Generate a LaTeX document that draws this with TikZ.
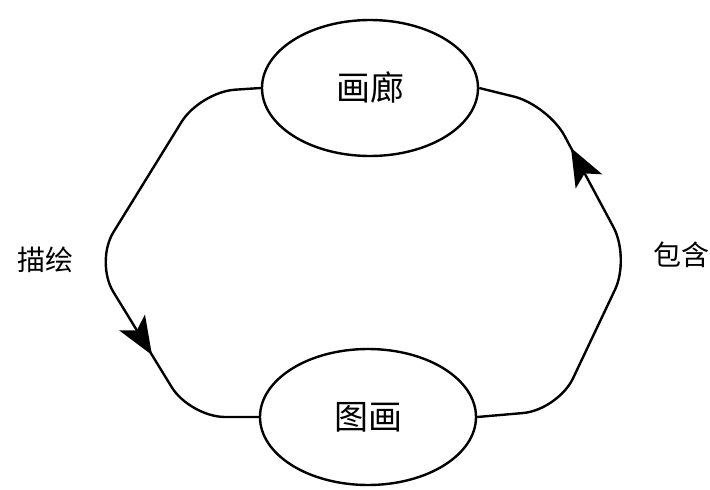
\documentclass[tikz,border=0pt]{standalone}
\usepackage{fontspec}
\newfontfamily\cjk{Noto Sans CJK SC}
\usetikzlibrary{shapes.geometric,arrows.meta,calc}
\begin{document}
\begin{tikzpicture}[x=1pt,y=-1pt,line width=2.4pt,
  concept/.style={ellipse,draw,minimum width=216pt,minimum height=136pt,inner sep=0pt,font=\cjk\fontsize{34}{34}\selectfont},
  lab/.style={font=\cjk\fontsize{28}{28}\selectfont,inner sep=0pt},
  link/.style={draw,rounded corners=35pt},
  tipmark/.style={-{Stealth[length=38pt,width=30pt,inset=9pt]}}]
\useasboundingbox (0,0) rectangle (710,490);
\node[concept] (top) at (370,88) {画廊};
\node[concept] (bot) at (368,417) {图画};
\coordinate (A) at (200,92);
\coordinate (B) at (95,262);
\coordinate (C) at (190,417);
\coordinate (D) at (558,410);
\coordinate (E) at (630,258);
\coordinate (F) at (548,105);
\draw[link] (top.west) -- (A) -- (B) -- (C) -- (bot.west);
\draw[link] (bot.east) -- (D) -- (E) -- (F) -- (top.east);
\draw[tipmark] ($(B)!0.45!(C)$) -- ($(B)!0.6!(C)$);
\draw[tipmark] ($(E)!0.55!(F)$) -- ($(E)!0.72!(F)$);
\node[lab] (l1) at (45,260) {描绘};
\node[lab] (l2) at (681,255) {包含};
\end{tikzpicture}
\end{document}
